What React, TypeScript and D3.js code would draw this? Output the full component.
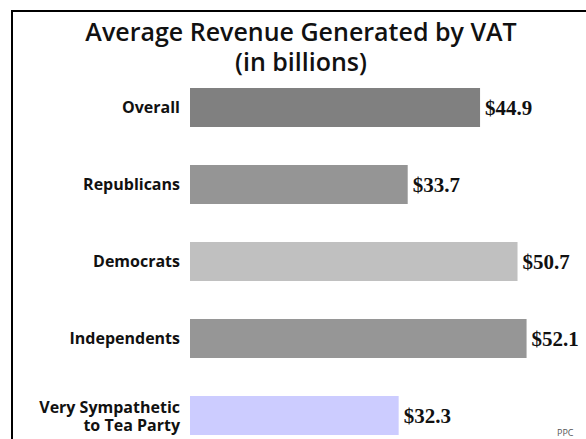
import React from "react";
import * as d3 from "d3";

const categories = ["Overall", "Republicans", "Democrats", "Independents", "Very Sympathetic\nto Tea Party"];
const values = [44.9, 33.7, 50.7, 52.1, 32.3];
const colors = ["#808080", "#959595", "#c0c0c0", "#969696", "#ccccff"];
const titleLines = ["Average Revenue Generated by VAT", "(in billions)"];
const sourceNote = "PPC";

const W = 586;
const H = 439;

export default function App() {
  const x = d3.scaleLinear().domain([0, 10]).range([190, 254.6]);
  const y = d3.scaleBand<number>().domain(d3.range(categories.length)).range([88, 435]).paddingInner(0.4935).paddingOuter(0);
  const bh = y.bandwidth();
  return (
    <svg width={W} height={H} style={{ position: "absolute", left: 0, top: 0, background: "#fff" }}>
      <path d={`M12,${H} L12,11 L${W},11`} fill="none" stroke="#000" strokeWidth={2} />
      <g fontFamily="'Open Sans', Lato, sans-serif" fill="#111" textAnchor="middle" fontWeight={600}>
        <text x={301} y={41} fontSize={25}>{titleLines[0]}</text>
        <text x={301} y={71} fontSize={25}>{titleLines[1]}</text>
      </g>
      {values.map((v, i) => {
        const y0 = y(i) as number;
        const lines = categories[i].split("\n");
        const cy = y0 + bh / 2;
        return (
          <g key={i}>
            <rect x={x(0)} y={y0} width={x(v) - x(0)} height={bh} fill={colors[i]} />
            <text
              x={x(v) + 5}
              y={cy}
              dy="0.35em"
              fontFamily="'Liberation Serif', 'DejaVu Serif', serif"
              fontWeight="bold"
              fontSize={21}
              fill="#111"
            >
              ${v.toFixed(1)}
            </text>
            {lines.map((l, j) => (
              <text
                key={j}
                x={180}
                y={lines.length > 1 ? cy - 2 + j * 18 : cy + 5.5}
                textAnchor="end"
                fontFamily="'Open Sans', Lato, sans-serif"
                fontWeight="bold"
                fontSize={16}
                fill="#111"
              >
                {l}
              </text>
            ))}
          </g>
        );
      })}
      <text x={557} y={436} fontSize={9} fill="#555" fontFamily="'Open Sans', sans-serif">{sourceNote}</text>
    </svg>
  );
}
